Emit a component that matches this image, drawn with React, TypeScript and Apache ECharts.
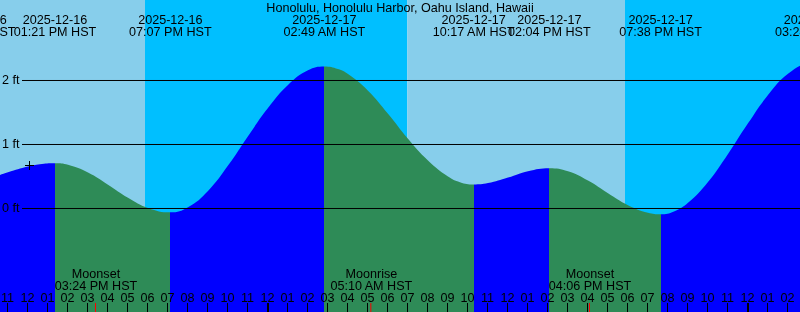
import React, { useEffect, useRef } from "react";
import * as echarts from "echarts";

// ---------- data (hours counted from 2025-12-16 00:00 HST) ----------
const TITLE = "Honolulu, Honolulu Harbor, Oahu Island, Hawaii";

const axisStartHour = 10.6;
const axisEndHour = 50.6;
const feetMin = -1.6172;
const feetMax = 3.2578;

// tide extremes (high / low)
const extremeHours = [9.33, 13.35, 19.117, 26.817, 34.283, 38.067, 43.633, 51.4];
const extremeFeet = [0.45, 0.707, -0.06, 2.22, 0.375, 0.63, -0.09, 2.29];
const extremeDates = [
  "2025-12-16", "2025-12-16", "2025-12-16", "2025-12-17",
  "2025-12-17", "2025-12-17", "2025-12-17", "2025-12-18",
];
const extremeTimes = [
  "09:20 AM HST", "01:21 PM HST", "07:07 PM HST", "02:49 AM HST",
  "10:17 AM HST", "02:04 PM HST", "07:38 PM HST", "03:24 AM HST",
];

// predicted water level
const curveHours = [
  9.33, 10, 11, 12, 12.7, 13.35, 14, 15, 16, 17, 18, 19.117,
  20, 21, 22, 23, 24, 25, 26, 26.817, 27.5, 28, 29, 30, 31, 32, 33, 33.6, 34.283,
  35, 36, 37, 38.067, 39, 40, 41, 42, 43, 43.633,
  44.3, 45, 46, 47, 48, 49, 50, 51, 51.4,
];
const curveFeet = [
  0.45, 0.47, 0.565, 0.655, 0.695, 0.707, 0.683, 0.562, 0.372, 0.168, 0.009, -0.06,
  0.02, 0.275, 0.67, 1.13, 1.57, 1.93, 2.16, 2.22, 2.18, 2.1, 1.84, 1.48, 1.09, 0.75, 0.5, 0.412, 0.375,
  0.397, 0.484, 0.583, 0.63, 0.581, 0.436, 0.239, 0.052, -0.067, -0.09,
  -0.047, 0.088, 0.415, 0.853, 1.331, 1.772, 2.104, 2.275, 2.29,
];

// sun
const sunriseHours = [6.95, 30.97, 55.0];
const sunsetHours = [17.85, 41.85];

// moon
const moonHours = [15.4, 29.167, 40.1];
const moonNames = ["Moonset", "Moonrise", "Moonset"];
const moonTimes = ["03:24 PM HST", "05:10 AM HST", "04:06 PM HST"];

// hour ticks
const firstTickHour = 11;
const hourTickLabels = [
  "11", "12", "01", "02", "03", "04", "05", "06", "07", "08", "09", "10",
  "11", "12", "01", "02", "03", "04", "05", "06", "07", "08", "09", "10",
  "11", "12", "01", "02", "03", "04", "05", "06", "07", "08", "09", "10",
  "11", "12", "01", "02",
];
const midnightHours = [24, 48];

// level lines
const feetLines = [0, 1, 2];
const feetLabels = ["0 ft", "1 ft", "2 ft"];

// current-time marker
const nowHour = 12.1;
const nowFeet = 0.66;

// ---------- styles ----------
const FONT = '"Liberation Sans", Arial, Helvetica, sans-serif';
const FS = 12.6;
const DAY = "#87CEEB";
const NIGHT = "#00BFFF";
const RISING = "#0000FF";
const FALLING = "#2E8B57";

const txt = (text: string, x: number, y: number, align: string = "center") => ({
  type: "text",
  style: {
    text,
    x,
    y,
    align,
    verticalAlign: "middle",
    fill: "#000",
    fontSize: FS,
    fontFamily: FONT,
  },
});

function buildOption() {
  const bands: number[][] = [];
  for (let i = 0; i < sunsetHours.length; i++) {
    bands.push([sunriseHours[i], sunsetHours[i], 1]);
    bands.push([sunsetHours[i], sunriseHours[i + 1], 0]);
  }

  const pieces: any[] = [{ gte: 0, lt: extremeHours[0], color: FALLING }];
  for (let i = 0; i < extremeHours.length - 1; i++) {
    pieces.push({
      gte: extremeHours[i],
      lt: extremeHours[i + 1],
      color: extremeFeet[i + 1] > extremeFeet[i] ? RISING : FALLING,
    });
  }
  pieces.push({ gte: extremeHours[extremeHours.length - 1], lte: 80, color: FALLING });

  const tideData = curveHours.map((h, i) => [h, curveFeet[i]]);
  const hourData = hourTickLabels.map((_, i) => [firstTickHour + i, 0]);

  return {
    animation: false,
    grid: { left: 0, right: 0, top: 0, bottom: 0 },
    xAxis: {
      type: "value",
      min: axisStartHour,
      max: axisEndHour,
      show: false,
    },
    yAxis: {
      type: "value",
      min: feetMin,
      max: feetMax,
      show: false,
    },
    visualMap: {
      type: "piecewise",
      show: false,
      dimension: 0,
      seriesIndex: 1,
      pieces,
    },
    graphic: [
      {
        type: "text",
        x: 400,
        y: 8,
        z: 100,
        style: {
          text: TITLE,
          align: "center",
          verticalAlign: "middle",
          fill: "#000",
          fontSize: FS,
          fontFamily: FONT,
        },
      },
    ],
    series: [
      {
        type: "custom",
        z: 0,
        silent: true,
        data: bands,
        renderItem: (params: any, api: any) => {
          const x0 = api.coord([api.value(0), 0])[0];
          const x1 = api.coord([api.value(1), 0])[0];
          const cs = params.coordSys;
          return {
            type: "rect",
            shape: { x: x0, y: cs.y, width: x1 - x0, height: cs.height },
            style: { fill: api.value(2) ? DAY : NIGHT },
          };
        },
      },
      {
        type: "line",
        z: 1,
        silent: true,
        data: tideData,
        smooth: 0.45,
        showSymbol: false,
        symbol: "none",
        lineStyle: { width: 0, opacity: 0 },
        areaStyle: { opacity: 1, origin: "start" },
      },
      {
        type: "custom",
        z: 3,
        silent: true,
        data: feetLines.map((v) => [axisStartHour, v]),
        renderItem: (params: any, api: any) => {
          const y = api.coord([axisStartHour, api.value(1)])[1];
          const cs = params.coordSys;
          return {
            type: "group",
            children: [
              {
                type: "line",
                shape: { x1: 22, y1: y, x2: cs.x + cs.width, y2: y },
                style: { stroke: "#000", lineWidth: 1 },
              },
              txt(feetLabels[params.dataIndex], 2, y - 0.2, "left"),
            ],
          };
        },
      },
      {
        type: "custom",
        z: 4,
        silent: true,
        data: hourData,
        renderItem: (params: any, api: any) => {
          const h = api.value(0);
          const x = api.coord([h, 0])[0];
          const isMidnight = midnightHours.indexOf(h) >= 0;
          const lx = isMidnight ? x : x - 0.5;
          return {
            type: "group",
            children: [
              {
                type: "line",
                shape: { x1: lx, y1: 303, x2: lx, y2: 312 },
                style: { stroke: "#000", lineWidth: isMidnight ? 2 : 1 },
              },
              txt(hourTickLabels[params.dataIndex], x - 0.5, 297.8),
            ],
          };
        },
      },
      {
        type: "custom",
        z: 5,
        silent: true,
        data: moonHours.map((h) => [h, 0]),
        renderItem: (params: any, api: any) => {
          const x = api.coord([api.value(0), 0])[0];
          return {
            type: "group",
            children: [
              {
                type: "line",
                shape: { x1: x - 0.5, y1: 303, x2: x - 0.5, y2: 312 },
                style: { stroke: "#FF0000", lineWidth: 1 },
              },
              txt(moonNames[params.dataIndex], x, 274),
              txt(moonTimes[params.dataIndex], x, 286),
            ],
          };
        },
      },
      {
        type: "custom",
        z: 5,
        silent: true,
        data: extremeHours.map((h, i) => [h, extremeFeet[i]]),
        renderItem: (params: any, api: any) => {
          const x = api.coord([api.value(0), 0])[0];
          return {
            type: "group",
            children: [
              txt(extremeDates[params.dataIndex], x, 19.6),
              txt(extremeTimes[params.dataIndex], x, 31.6),
            ],
          };
        },
      },
      {
        type: "custom",
        z: 6,
        silent: true,
        data: [[nowHour, nowFeet]],
        renderItem: (params: any, api: any) => {
          const p = api.coord([api.value(0), api.value(1)]);
          const x = Math.round(p[0]) - 0.5;
          const y = Math.round(p[1]) - 0.5;
          return {
            type: "group",
            children: [
              {
                type: "line",
                shape: { x1: x - 4.5, y1: y, x2: x + 4.5, y2: y },
                style: { stroke: "#000", lineWidth: 1 },
              },
              {
                type: "line",
                shape: { x1: x, y1: y - 4.5, x2: x, y2: y + 4.5 },
                style: { stroke: "#000", lineWidth: 1 },
              },
            ],
          };
        },
      },
    ],
  };
}

export default function App() {
  const ref = useRef<HTMLDivElement>(null);
  useEffect(() => {
    if (!ref.current) return;
    const chart = echarts.init(ref.current, undefined, { renderer: "svg" });
    chart.setOption(buildOption() as any);
    return () => {
      chart.dispose();
    };
  }, []);
  return (
    <div
      ref={ref}
      style={{ position: "fixed", left: 0, top: 0, width: 800, height: 312 }}
    />
  );
}
